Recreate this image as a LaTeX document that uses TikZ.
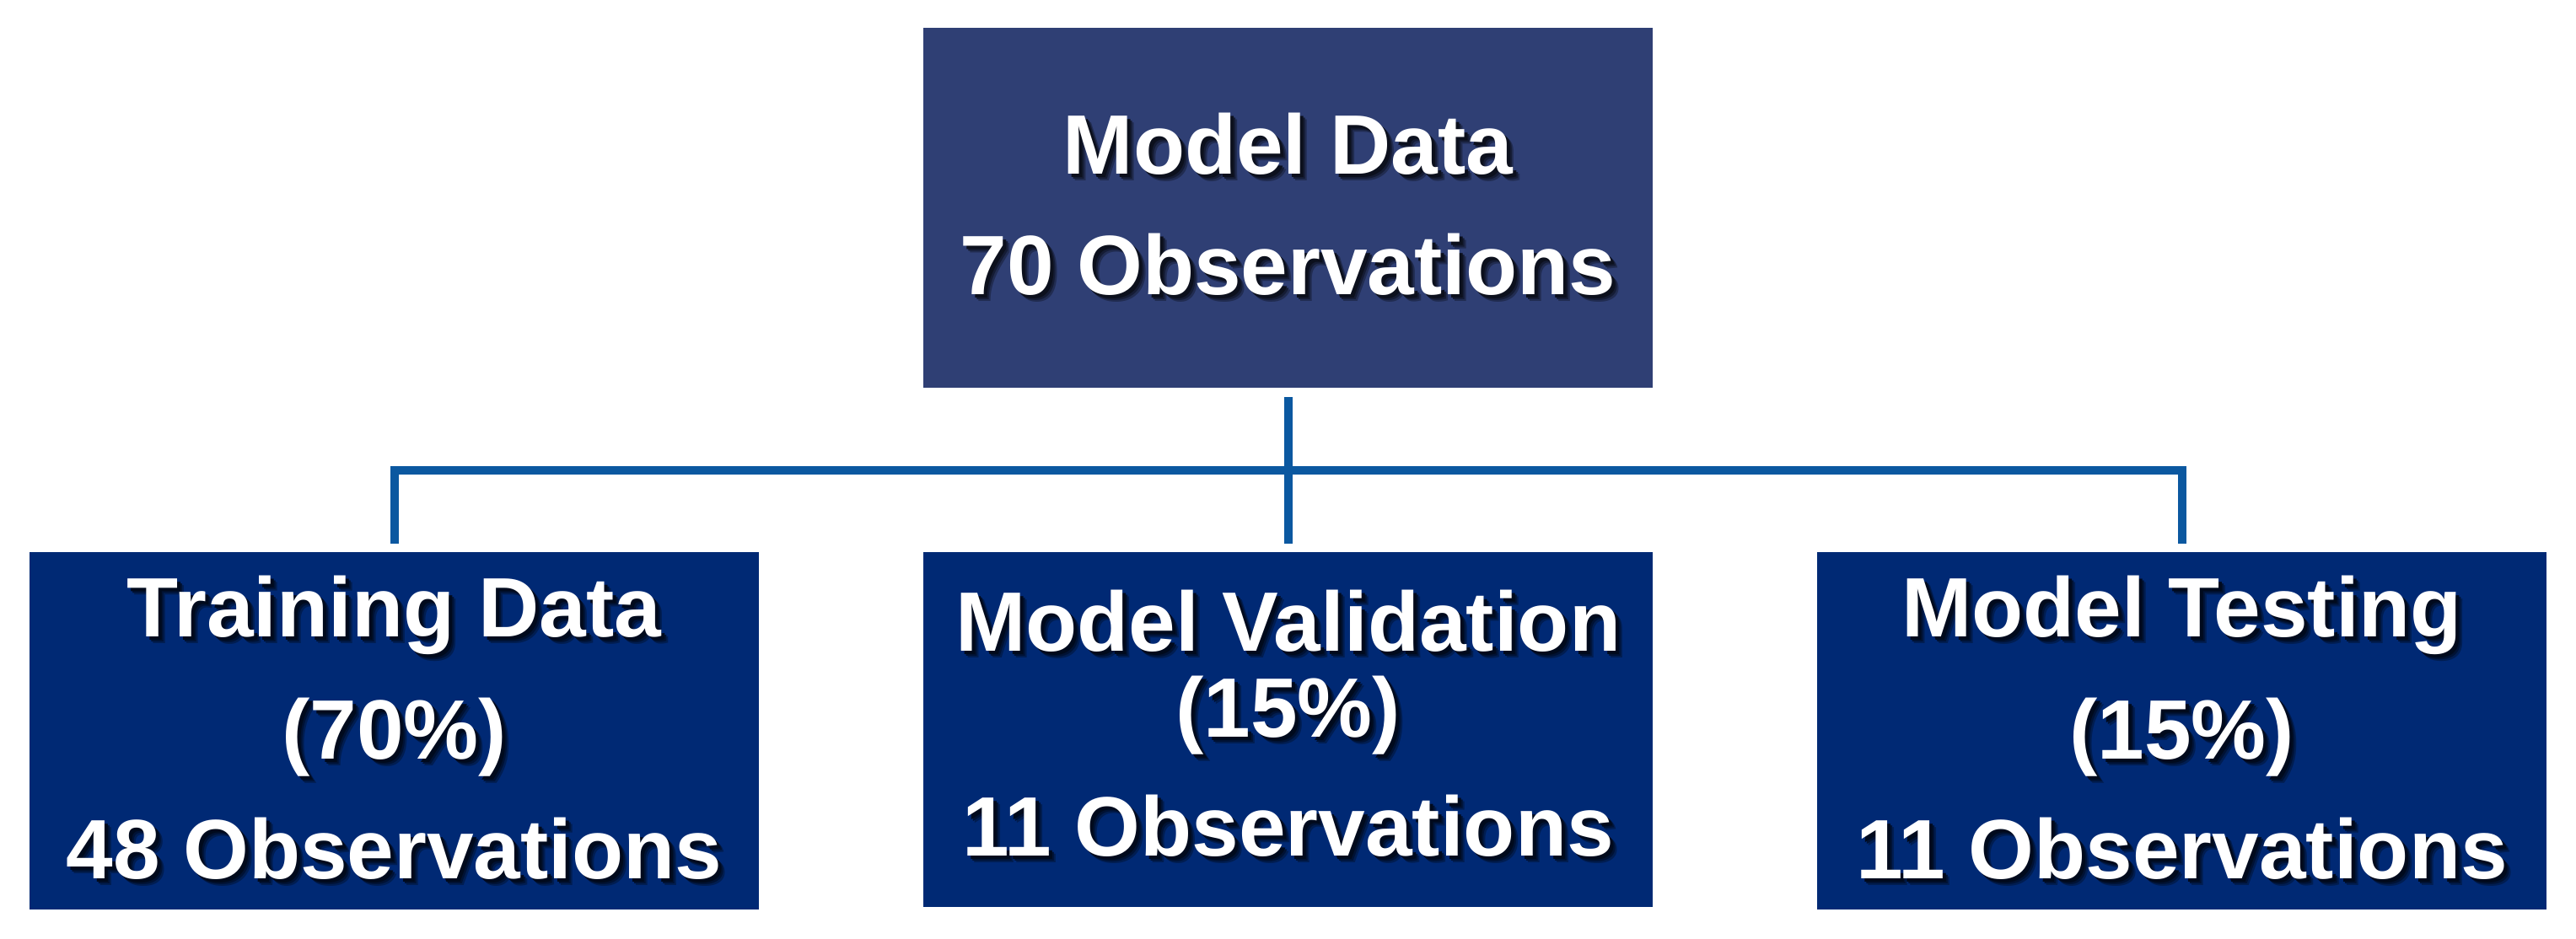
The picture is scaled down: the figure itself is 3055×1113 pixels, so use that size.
\documentclass[tikz,border=0pt]{standalone}
\usepackage{fontspec}
\setmainfont{Liberation Sans}
\definecolor{topbox}{RGB}{47,63,116}
\definecolor{botbox}{RGB}{0,41,116}
\definecolor{connc}{RGB}{11,88,160}
\newcommand\shdtxt[2]{%
\makebox[0pt][l]{\hspace{4pt}\raisebox{-4pt}{\textcolor{black!30!#1}{#2}}}%
\makebox[0pt][l]{\hspace{3pt}\raisebox{-3pt}{\textcolor{black!55!#1}{#2}}}%
\makebox[0pt][l]{\hspace{2pt}\raisebox{-2pt}{\textcolor{black!75!#1}{#2}}}%
\textcolor{white}{#2}}
\begin{document}
\begin{tikzpicture}[x=0.5pt,y=-0.5pt,
  boxst/.style={rectangle,inner sep=0pt,minimum width=432.5pt},
  lbl/.style={anchor=base,inner sep=0pt,font=\fontsize{50}{60}\selectfont\bfseries},
  conn/.style={draw=connc,line width=5pt,line join=miter}]
\useasboundingbox (0,0) rectangle (3055,1113);
\node[boxst,fill=topbox,minimum height=213.5pt] (top) at (1527.5,246.5) {};
\node[boxst,fill=botbox,minimum height=212pt] (left) at (467.5,867) {};
\node[boxst,fill=botbox,minimum height=210.5pt] (mid) at (1527.5,865.5) {};
\node[boxst,fill=botbox,minimum height=212pt] (right) at (2587.5,867) {};
% texts
\node[lbl] (top1) at (1527.5,206) {\shdtxt{topbox}{Model Data}};
\node[lbl] (top2) at (1527.5,349) {\shdtxt{topbox}{70 Observations}};
\node[lbl] (left1) at (467.5,755) {\shdtxt{botbox}{Training Data}};
\node[lbl] (left2) at (467.5,900) {\shdtxt{botbox}{(70\%)}};
\node[lbl] (left3) at (467.5,1042) {\shdtxt{botbox}{48 Observations}};
\node[lbl] (mid1) at (1527.5,772.5) {\shdtxt{botbox}{Model Validation}};
\node[lbl] (mid2) at (1527.5,874) {\shdtxt{botbox}{(15\%)}};
\node[lbl] (mid3) at (1527.5,1015.5) {\shdtxt{botbox}{11 Observations}};
\node[lbl] (right1) at (2587.5,755) {\shdtxt{botbox}{Model Testing}};
\node[lbl] (right2) at (2587.5,900) {\shdtxt{botbox}{(15\%)}};
\node[lbl] (right3) at (2587.5,1042) {\shdtxt{botbox}{11 Observations}};
% connectors
\coordinate (bus) at (1527.5,558);
\draw[conn] ([yshift=-5.5pt]top.south) -- ([yshift=5pt]mid.north);
\draw[conn] ([yshift=5pt]left.north) -- (left.north |- bus) -- (right.north |- bus) -- ([yshift=5pt]right.north);
\end{tikzpicture}
\end{document}
